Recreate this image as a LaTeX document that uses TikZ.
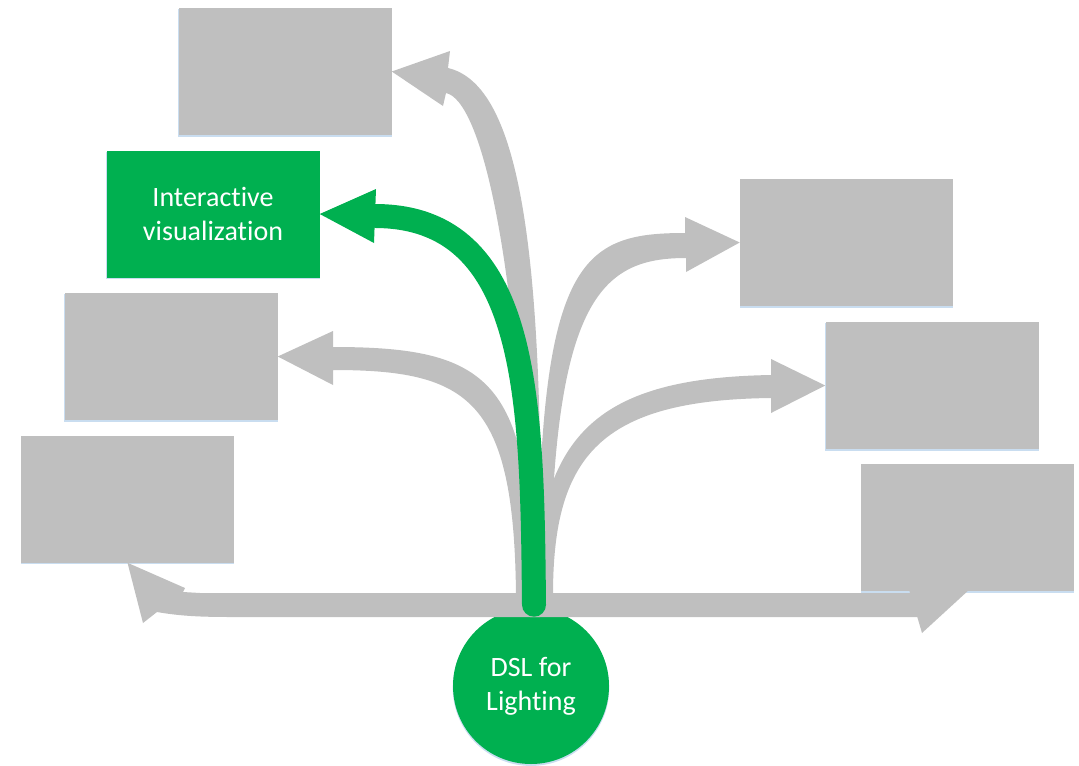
\documentclass[tikz,border=0pt]{standalone}
\usepackage{fontspec}
\setmainfont{Carlito}[Ligatures=NoCommon]
\usetikzlibrary{arrows.meta,shadows,calc}
\definecolor{boxgray}{HTML}{BFBFBF}
\definecolor{okgreen}{HTML}{00B050}
\definecolor{shadowblue}{HTML}{C9DDF0}
\begin{document}
\begin{tikzpicture}[x=0.75pt,y=-0.75pt,
  softshadow/.style={drop shadow={shadow scale=1.004, shadow xshift=0pt, shadow yshift=-1.2pt, fill=shadowblue, opacity=1}},
  box/.style={rectangle, fill=boxgray, inner sep=0pt, minimum width=159.75pt, minimum height=95.25pt, softshadow},
  greenbox/.style={box, fill=okgreen, text=white, align=center, font=\fontsize{21pt}{25.5pt}\selectfont},
  rootnode/.style={circle, fill=okgreen, inner sep=0pt, minimum size=117pt, text=white, align=center, font=\fontsize{21pt}{25.5pt}\selectfont, softshadow},
  grayarrow/.style={fill=boxgray},
  greenstem/.style={draw=okgreen, line width=18pt, line cap=round},
  greenhead/.style={fill=okgreen}
]
\useasboundingbox (0,0) rectangle (1079,765);

% boxes
\node[box] (A) at (285,71.5) {};
\node[greenbox] (I) at (213,214) {Interactive\\visualization};
\node[box] (L2) at (171,356.5) {};
\node[box] (L3) at (127.5,499) {};
\node[box] (R1) at (846.5,242.5) {};
\node[box] (R2) at (932,385.5) {};
\node[box] (R3) at (967.5,527.5) {};

% root circle
\node[rootnode] (root) at (531,686) {DSL for\\Lighting};

% gray tapered arrows
\fill[grayarrow] (540,600) .. controls (545,250) and (520,85) .. (448,68)
  -- (450,51) -- (A.east) -- (443,106) -- (446,93)
  .. controls (480,100) and (520,250) .. (530,600) -- cycle;
\fill[grayarrow] (L2.east) -- (333,331) -- (333,347)
  .. controls (490,347) and (532,380) .. (532,595) -- (516,595)
  .. controls (514,400) and (470,370) .. (333,370) -- (333,385) -- cycle;
\fill[grayarrow] (R1.west) -- (686,272) -- (686,258)
  .. controls (600,258) and (552,300) .. (550,595) -- (538,595)
  .. controls (538,260) and (580,233) .. (685,233) -- (685,217) -- cycle;
\fill[grayarrow] (R2.west) -- (771,413) -- (771,398)
  .. controls (600,400) and (553,456) .. (553,595) -- (535,595)
  .. controls (538,432) and (600,378) .. (771,375) -- (771,359) -- cycle;
\fill[grayarrow] (540,593) -- (200,593) -- (183,592) -- (185,588) -- (L3.south)
  -- (143,623) -- (157,612) .. controls (180,616) and (200,617) .. (232,617)
  -- (540,617) -- cycle;
\fill[grayarrow] (530,593) -- (910,593) -- (906.7,581.2) -- (R3.south)
  -- (922,633) -- (917.3,617) -- (530,617) -- cycle;

% green arrow
\draw[greenstem] ($(root.north)+(3,-3)$) .. controls (532,400) and (530,217) .. (376,216);
\fill[greenhead] (376,189) -- (I.east) -- (374,243) -- cycle;
\end{tikzpicture}
\end{document}
